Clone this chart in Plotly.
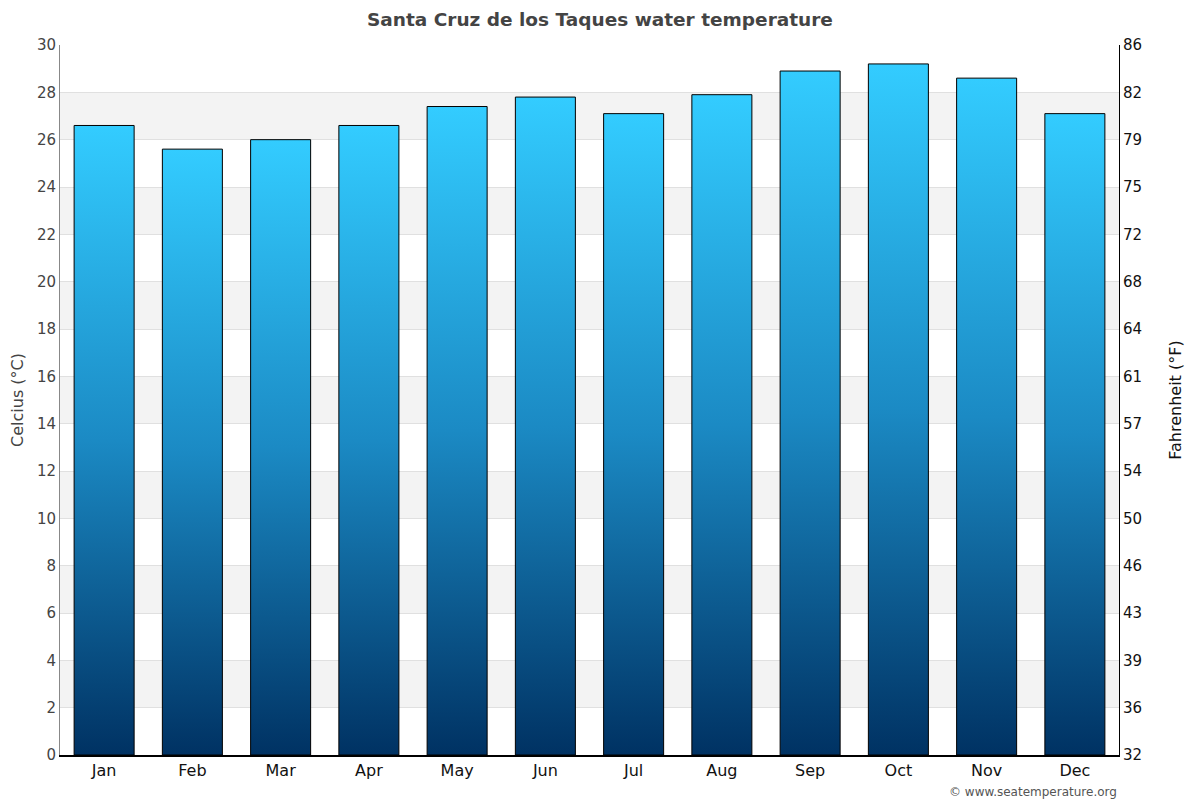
import plotly.graph_objects as go

months = ['Jan', 'Feb', 'Mar', 'Apr', 'May', 'Jun', 'Jul', 'Aug', 'Sep', 'Oct', 'Nov', 'Dec']
water_c = [26.6, 25.6, 26.0, 26.6, 27.4, 27.8, 27.1, 27.9, 28.9, 29.2, 28.6, 27.1]
celsius_ticks = list(range(0, 31, 2))
fahrenheit_ticks = ['32', '36', '39', '43', '46', '50', '54', '57', '61', '64', '68', '72', '75', '79', '82', '86']

half = 0.34
fig = go.Figure()

for i, v in enumerate(water_c):
    fig.add_trace(go.Scatter(
        x=[i - half, i + half, i + half, i - half, i - half],
        y=[0, 0, v, v, 0],
        mode='lines', fill='toself',
        line=dict(color='black', width=1),
        fillgradient=dict(type='vertical',
                          colorscale=[[0, '#003263'], [0.5, '#1b8ac4'], [1, '#33ccff']]),
        name=months[i], showlegend=False, hoverinfo='skip',
    ))

# invisible trace so the right axis shows up
fig.add_trace(go.Scatter(x=[0], y=[0], yaxis='y2', mode='markers',
                         marker=dict(opacity=0), showlegend=False, hoverinfo='skip'))

# alternating grey bands
for lo in celsius_ticks[1:-1:2]:
    fig.add_shape(type='rect', xref='paper', yref='y', x0=0, x1=1, y0=lo, y1=lo + 2,
                  fillcolor='#f3f3f3', line_width=0, layer='below')

# page adds an 8px body margin, so the figure is a bit smaller than the window
fig.update_layout(
    width=1192, height=792,
    margin=dict(l=52, r=81, t=37, b=45),
    plot_bgcolor='white', paper_bgcolor='white',
    font=dict(family='DejaVu Sans', color='#444'),
    title=dict(text='<b>Santa Cruz de los Taques water temperature</b>',
               x=0.4966, xanchor='center', xref='container', y=0.985, yanchor='middle',
               font=dict(size=18.5, color='#444')),
    xaxis=dict(range=[-0.5, 11.5], tickmode='array', tickvals=list(range(12)), ticktext=months,
               showgrid=False, zeroline=False, showline=True, linecolor='black', linewidth=2,
               tickfont=dict(size=16, color='#111'), ticks='', fixedrange=True, automargin=False),
    yaxis=dict(range=[0, 30], tickmode='array', tickvals=celsius_ticks,
               showgrid=True, gridcolor='#e0e0e0', gridwidth=1, zeroline=False,
               showline=True, linecolor='#888', linewidth=1, automargin=False,
               tickfont=dict(size=15, color='#444'),
               title=dict(text='Celcius (°C)', font=dict(size=16, color='#444'), standoff=10)),
    yaxis2=dict(range=[0, 30], overlaying='y', side='right', tickmode='array',
                tickvals=celsius_ticks, ticktext=fahrenheit_ticks, automargin=False,
                showgrid=False, zeroline=False, showline=True, linecolor='black', linewidth=1,
                tickfont=dict(size=15, color='#111'),
                title=dict(text='Fahrenheit (°F)', font=dict(size=16, color='#111'), standoff=28)),
    annotations=[dict(text='© www.seatemperature.org', xref='paper', yref='paper',
                      x=1, y=-0.052, xanchor='right', yanchor='middle', showarrow=False,
                      font=dict(size=12, color='#555'))],
)

fig.write_html("out.html")
